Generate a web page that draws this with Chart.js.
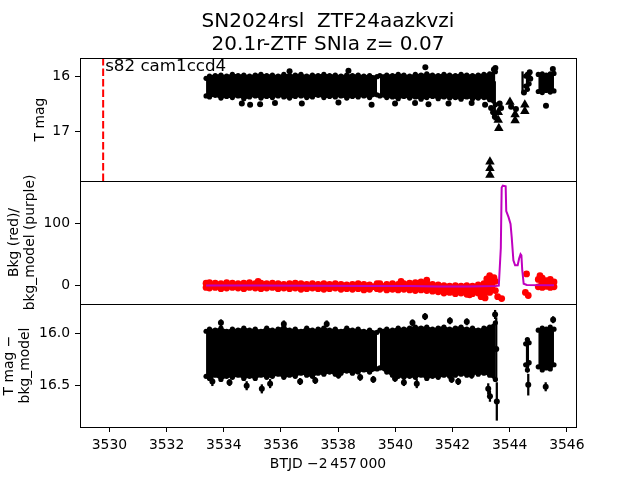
<!DOCTYPE html>
<html><head><meta charset="utf-8">
<script src="https://cdn.jsdelivr.net/npm/chart.js@4.4.1/dist/chart.umd.min.js"></script>
<style>html,body{margin:0;padding:0;background:#fff}#wrap{width:640px;height:480px}</style>
</head><body><div id="wrap"><canvas id="c" width="640" height="480"></canvas></div>
<script>
// ---------- text ----------
const titleLines = ['SN2024rsl  ZTF24aazkvzi', '20.1r-ZTF SNIa z= 0.07'];
const noteText = 's82 cam1ccd4';
const xTitle = 'BTJD \u22122\u2009457\u2009000';
const yTopTitle = 'T mag';
const yBkgTitle = ['Bkg (red)/', 'bkg_model (purple)'];
const yDifTitle = ['T mag \u2212', 'bkg_model'];

// ---------- axes ----------
const xRange = [3528.97, 3546.32];
const xTicks = [3530, 3532, 3534, 3536, 3538, 3540, 3542, 3544, 3546];
const yTopRange = [15.67, 17.91];
const yTopTicks = [16, 17];
const yBkgRange = [-30.8, 168.6];
const yBkgTicks = [0, 100];
const yDifRange = [15.72, 16.894];
const yDifTicks = [16.0, 16.5];
const sectorLineX = 3529.78;
const noteAt = [3529.85, 15.9];

// ---------- dense light-curve envelope (time grid shared by the three panels) ----------
const bandT = [3533.38, 3533.5, 3533.7, 3533.9, 3534.1, 3534.3, 3534.5, 3534.7, 3534.9, 3535.1, 3535.3, 3535.5, 3535.7, 3535.9, 3536.1, 3536.3, 3536.5, 3536.7, 3536.9, 3537.1, 3537.3, 3537.5, 3537.7, 3537.9, 3538.1, 3538.3, 3538.5, 3538.7, 3538.9, 3539.1, 3539.36,
  3539.41,
  3539.46, 3539.7, 3539.9, 3540.1, 3540.3, 3540.5, 3540.7, 3540.9, 3541.1, 3541.3, 3541.5, 3541.7, 3541.9, 3542.1, 3542.3, 3542.5, 3542.7, 3542.9, 3543.1, 3543.3, 3543.5,
  3544.0,
  3544.56, 3544.62, 3544.68,
  3544.85,
  3545.0, 3545.14, 3545.28, 3545.42, 3545.55];

// top panel: T mag
const topUp = [16.04, 16.0, 15.99, 15.98, 16.0, 15.97, 15.99, 15.98, 16.0, 15.98, 15.97, 15.99, 15.98, 16.0, 15.97, 15.99, 15.98, 15.97, 16.0, 15.98, 15.99, 15.97, 15.99, 15.98, 16.0, 15.98, 15.99, 15.98, 16.0, 15.99, 16.01,
  null,
  15.99, 15.98, 15.99, 15.97, 15.98, 16.0, 15.97, 15.98, 15.96, 15.98, 15.99, 15.97, 15.98, 15.99, 15.97, 15.98, 15.99, 15.98, 15.97, 15.96, 15.92,
  null,
  16.0, 15.97, 16.02,
  null,
  15.97, 15.96, 15.98, 15.96, 15.95];
const topLo = [16.36, 16.38, 16.35, 16.40, 16.37, 16.39, 16.36, 16.41, 16.38, 16.36, 16.40, 16.37, 16.39, 16.36, 16.38, 16.40, 16.37, 16.36, 16.39, 16.38, 16.35, 16.39, 16.37, 16.38, 16.36, 16.40, 16.37, 16.38, 16.36, 16.39, 16.34,
  null,
  16.36, 16.39, 16.38, 16.41, 16.37, 16.40, 16.38, 16.42, 16.39, 16.37, 16.41, 16.38, 16.40, 16.39, 16.42, 16.38, 16.41, 16.40, 16.39, 16.43, 16.52,
  null,
  16.18, 16.24, 16.14,
  null,
  16.28, 16.30, 16.26, 16.29, 16.27];

// middle panel: background (red)
const bkgUp = [3, 4, 3, 2, 4, 3, 2, 3, 4, 2, 3, 2, 3, 2, 1, 2, 3, 2, 1, 2, 1, 2, 1, 2, 1, 0, 1, 2, 1, 0, 2,
  null,
  2, 1, 2, 1, 2, 3, 4, 5, 3, 1, 0, -1, -2, -1, -2, -1, -2, 0, 2, 4, 6,
  null,
  null, null, null,
  null,
  9, 11, 7, 9, 5];
const bkgLo = [-4, -5, -4, -6, -5, -4, -5, -6, -4, -5, -6, -5, -4, -6, -5, -6, -5, -7, -6, -5, -6, -7, -6, -5, -7, -6, -7, -6, -8, -7, -6,
  null,
  -7, -8, -7, -8, -7, -8, -9, -8, -9, -10, -11, -13, -12, -14, -13, -15, -14, -13, -14, -12, -9,
  null,
  null, null, null,
  null,
  -3, -4, -2, -4, -3];

// bottom panel: T mag - bkg_model
const difUp = [15.98, 15.96, 15.97, 15.95, 15.98, 15.96, 15.97, 15.95, 15.97, 15.96, 15.98, 15.95, 15.97, 15.96, 15.94, 15.97, 15.96, 15.98, 15.95, 15.97, 15.96, 15.95, 15.97, 15.96, 15.98, 15.95, 15.97, 15.96, 15.98, 15.97, 15.99,
  null,
  15.97, 15.96, 15.97, 15.95, 15.96, 15.95, 15.94, 15.95, 15.94, 15.96, 15.95, 15.94, 15.96, 15.95, 15.94, 15.96, 15.95, 15.97, 15.95, 15.94, 15.90,
  null,
  16.10, 16.06, 16.09,
  null,
  15.97, 15.95, 15.96, 15.94, 15.96];
const difLo = [16.41, 16.43, 16.40, 16.44, 16.41, 16.42, 16.40, 16.43, 16.41, 16.43, 16.40, 16.42, 16.41, 16.39, 16.42, 16.40, 16.41, 16.38, 16.40, 16.41, 16.38, 16.39, 16.37, 16.39, 16.38, 16.36, 16.38, 16.37, 16.35, 16.37, 16.34,
  null,
  16.33, 16.37, 16.40, 16.41, 16.42, 16.41, 16.42, 16.40, 16.43, 16.41, 16.42, 16.40, 16.41, 16.40, 16.39, 16.40, 16.38, 16.39, 16.38, 16.40, 16.44,
  null,
  16.30, 16.35, 16.28,
  null,
  16.32, 16.35, 16.33, 16.34, 16.30];

// ---------- individual points ----------
const topOutT = [3534.63, 3534.92, 3535.27, 3535.79, 3536.73, 3538.01, 3539.17, 3539.99, 3540.69, 3541.16, 3541.86, 3542.67, 3543.14,
  3541.05, 3538.36, 3536.3, 3543.35, 3543.42, 3543.48, 3543.45, 3543.5,
  3543.65, 3543.7, 3544.05, 3544.22, 3544.5, 3544.7, 3544.72, 3545.27, 3545.51];
const topOutM = [16.50, 16.52, 16.51, 16.49, 16.50, 16.48, 16.52, 16.50, 16.49, 16.51, 16.50, 16.49, 16.52,
  15.84, 15.90, 15.91, 16.58, 16.66, 16.74, 15.88, 15.85,
  16.50, 16.58, 16.56, 16.60, 16.30, 15.93, 16.05, 16.54, 15.87];
const topErrT = [3544.45, 3543.48];
const topErrM = [16.10, 16.45];
const topErrE = [0.18, 0.35];
const topLimT = [3543.60, 3543.60, 3543.62, 3544.01, 3544.19, 3544.19, 3544.53, 3544.53, 3543.31, 3543.31, 3543.31];
const topLimM = [16.66, 16.80, 16.95, 16.47, 16.70, 16.81, 16.52, 16.64, 17.56, 17.68, 17.80];

const bkgOutT = [3543.0, 3543.14, 3543.2, 3543.3, 3543.38, 3543.45, 3543.58, 3543.72, 3544.55, 3544.59, 3544.65, 3545.06, 3541.1, 3542.6, 3540.2, 3535.2];
const bkgOutV = [-19, -21, 10, 15, 6, 12, -19, -22, -12, 18, -17, 15, 8, -16, 6, 6];

const modelT = [3533.38, 3535.0, 3537.0, 3539.0, 3540.5, 3541.5, 3542.5, 3543.5, 3543.62, 3543.69, 3543.72, 3543.76, 3543.86, 3543.88, 3543.96, 3544.03, 3544.07, 3544.13, 3544.19, 3544.28, 3544.33, 3544.38, 3544.41, 3544.44, 3544.49, 3544.6, 3545.55];
const modelV = [-1, -1, -1.2, -1.5, -1.5, -2.5, -2.5, -1.5, -1, 60, 158, 161, 160, 120, 110, 99, 78, 40, 32, 32, 43, 50, 48, 24, 2, 0, -0.5];

const difOutT = [3534.80, 3535.33, 3535.62, 3536.67, 3538.01, 3538.77, 3539.23, 3539.99, 3540.75, 3541.97, 3542.67, 3541.04, 3541.91, 3545.52, 3545.26, 3544.65, 3543.25, 3543.31, 3543.55, 3543.49, 3543.53,
  3533.6, 3534.2, 3537.2, 3540.3, 3542.2, 3533.9, 3536.1, 3537.6, 3540.6, 3542.5];
const difOutM = [16.50, 16.53, 16.48, 16.46, 16.40, 16.42, 16.44, 16.43, 16.48, 16.44, 16.40, 15.84, 15.88, 15.87, 16.51, 16.49, 16.53, 16.60, 16.65, 15.82, 16.15,
  16.46, 16.47, 16.45, 16.47, 16.46, 15.90, 15.91, 15.91, 15.90, 15.89];
const difOutE = [0.04, 0.04, 0.04, 0.03, 0.03, 0.03, 0.03, 0.03, 0.04, 0.03, 0.03, 0.03, 0.03, 0.03, 0.04, 0.10, 0.05, 0.05, 0.18, 0.04, 0.30,
  0.04, 0.03, 0.03, 0.03, 0.03, 0.03, 0.03, 0.03, 0.03, 0.03];

// ---------- build chart ----------
const FAM = "'DejaVu Sans'";
Chart.defaults.font.family = 'DejaVu Sans';
const BLACK = '#000000', RED = '#ff0000', MAG = '#bf00bf';
const pts = (xs, ys) => xs.map((x, i) => ({x: x, y: ys[i]}));
const errPts = (xs, ys, es) => xs.map((x, i) => ({x: x, y: [ys[i] - es[i], ys[i] + es[i]]}));

const datasets = [];
datasets.push({type: 'line', data: pts(modelT, modelV), yAxisID: 'yB', borderColor: MAG, borderWidth: 2,
  pointRadius: 0, fill: false, order: 0});
datasets.push({type: 'line', data: [{x: sectorLineX, y: yTopRange[0]}, {x: sectorLineX, y: yTopRange[1]}], yAxisID: 'yT',
  borderColor: RED, borderWidth: 2, borderDash: [7.5, 3], pointRadius: 0, fill: false, order: 0});
function addBand(up, lo, yid, color, r) {
  datasets.push({type: 'line', data: pts(bandT, up), yAxisID: yid, borderColor: color, borderWidth: 2,
    pointRadius: r, pointBackgroundColor: color, pointBorderWidth: 0, fill: false, spanGaps: false, order: 2});
  datasets.push({type: 'line', data: pts(bandT, lo), yAxisID: yid, borderColor: color, borderWidth: 2,
    pointRadius: r, pointBackgroundColor: color, pointBorderWidth: 0, fill: '-1', backgroundColor: color, spanGaps: false, order: 2});
}
function addPoints(xs, ys, yid, color, r, style) {
  datasets.push({type: 'line', data: pts(xs, ys), yAxisID: yid, showLine: false, pointStyle: style || 'circle',
    pointRadius: r, pointBackgroundColor: color, pointBorderColor: color, pointBorderWidth: 0, fill: false, order: 1});
}
function addErr(xs, ys, es, yid, color) {
  datasets.push({type: 'bar', data: errPts(xs, ys, es), yAxisID: yid, backgroundColor: color, borderWidth: 0,
    barThickness: 1.6, grouped: false, order: 3});
}
addBand(topUp, topLo, 'yT', BLACK, 2.6);
addBand(bkgUp, bkgLo, 'yB', RED, 3.4);
addBand(difUp, difLo, 'yD', BLACK, 2.6);
addPoints(topOutT, topOutM, 'yT', BLACK, 3);
addErr(topErrT, topErrM, topErrE, 'yT', BLACK);
addPoints(topLimT, topLimM, 'yT', BLACK, 5.5, 'triangle');
addPoints(bkgOutT, bkgOutV, 'yB', RED, 3.4);
addErr(difOutT, difOutM, difOutE, 'yD', BLACK);
addPoints(difOutT, difOutM, 'yD', BLACK, 3);

function yAxis(range, ticks, reverse, dec, title, tpad) {
  return {
    type: 'linear', position: 'left', stack: 'panels', stackWeight: 1, reverse: reverse,
    min: range[0], max: range[1], beginAtZero: false,
    border: {display: false},
    grid: {display: true, drawOnChartArea: false, drawTicks: true, tickLength: 5, tickColor: BLACK, tickWidth: 1},
    afterBuildTicks: s => { s.ticks = ticks.map(v => ({value: v})); },
    afterFit: s => { s.width = 80; s.paddingTop = 0; s.paddingBottom = 0; },
    ticks: {color: BLACK, font: {family: 'DejaVu Sans', size: 13.9}, padding: 5, callback: v => Number(v).toFixed(dec)},
    title: {display: true, text: title, color: BLACK, font: {family: 'DejaVu Sans', size: 13.9, lineHeight: 1.2},
      padding: {top: tpad, bottom: 0}}
  };
}

const panelPlugin = {
  id: 'panels',
  afterDatasetsDraw(chart) {
    const {ctx, chartArea: ca, scales} = chart;
    ctx.save();
    ctx.strokeStyle = BLACK; ctx.lineWidth = 1;
    ['yT', 'yB', 'yD'].forEach(id => {
      const s = scales[id];
      ctx.strokeRect(Math.round(ca.left) + 0.5, Math.round(s.top) + 0.5, Math.round(ca.right - ca.left), Math.round(s.bottom - s.top));
    });
    ctx.fillStyle = BLACK;
    ctx.font = "16.7px " + FAM;
    ctx.textAlign = 'left'; ctx.textBaseline = 'alphabetic';
    ctx.fillText(noteText, scales.x.getPixelForValue(noteAt[0]), scales.yT.getPixelForValue(noteAt[1]));
    ctx.restore();
  }
};

new Chart(document.getElementById('c'), {
  type: 'line',
  data: {datasets: datasets},
  options: {
    responsive: false, animation: false, devicePixelRatio: 1,
    layout: {padding: {left: 0, right: 64, top: 0, bottom: 0}},
    plugins: {
      legend: {display: false}, tooltip: {enabled: false},
      title: {display: true, fullSize: false, text: titleLines, color: BLACK,
        font: {family: 'DejaVu Sans', size: 20, weight: 'normal', lineHeight: 1.15}, padding: {top: 10, bottom: 2}}
    },
    scales: {
      x: {type: 'linear', position: 'bottom', min: xRange[0], max: xRange[1], offset: false,
        border: {display: false},
        grid: {display: true, offset: false, drawOnChartArea: false, drawTicks: true, tickLength: 5, tickColor: BLACK, tickWidth: 1},
        afterBuildTicks: s => { s.ticks = xTicks.map(v => ({value: v})); },
        afterFit: s => { s.height = 53; s.paddingLeft = 0; s.paddingRight = 0; },
        ticks: {color: BLACK, font: {family: 'DejaVu Sans', size: 13.9}, padding: 5, maxRotation: 0, autoSkip: false,
          callback: v => String(v)},
        title: {display: true, text: xTitle, color: BLACK, font: {family: 'DejaVu Sans', size: 13.9, lineHeight: 1.2},
          padding: {top: 0, bottom: 7}}
      },
      yD: yAxis(yDifRange, yDifTicks, true, 1, yDifTitle, 0.7),
      yB: yAxis(yBkgRange, yBkgTicks, false, 0, yBkgTitle, 5.7),
      yT: yAxis(yTopRange, yTopTicks, true, 0, yTopTitle, 31.7)
    }
  },
  plugins: [panelPlugin]
});
</script>
</body></html>
